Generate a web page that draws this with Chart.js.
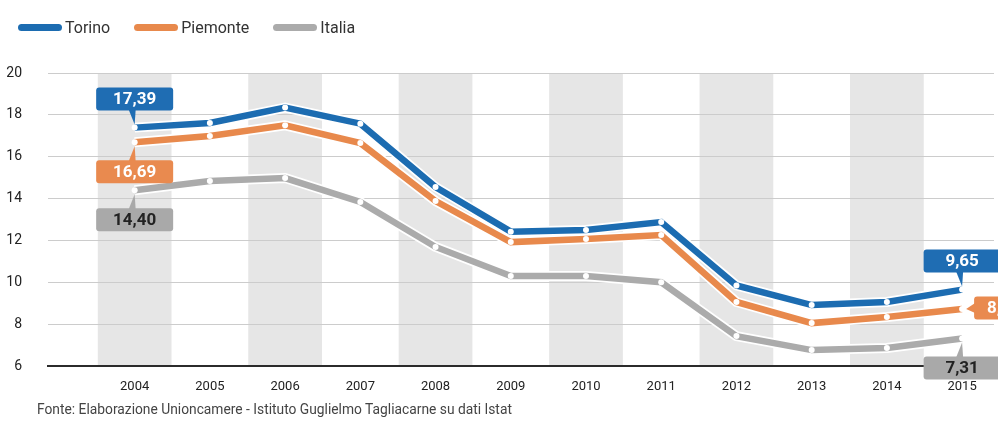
<!DOCTYPE html>
<html>
<head>
<meta charset="utf-8">
<script src="https://cdn.jsdelivr.net/npm/chart.js@4.4.1/dist/chart.umd.min.js"></script>
<style>
    body { margin: 0; background: #fff; overflow: hidden; font-family: Roboto, sans-serif; }
    #wrap { position: relative; width: 998px; height: 425px; }
    #chart { position: absolute; left: 0; top: 0; }
    #legend { position: absolute; left: 18px; top: 18px; display: flex; align-items: center; font-size: 16px; color: #333; }
    #legend span.item { display: flex; align-items: center; margin-right: 24px; }
    #legend span.sym { display: inline-block; width: 44px; height: 7px; border-radius: 4px; margin-right: 3px; }
    #footer { position: absolute; left: 37px; top: 401px; font-size: 13.8px; color: #444; white-space: nowrap; }
</style>
</head>
<body>
<div id="wrap">
    <canvas id="chart" width="998" height="425"></canvas>
    <div id="legend"></div>
    <div id="footer">Fonte: Elaborazione Unioncamere - Istituto Guglielmo Tagliacarne su dati Istat</div>
</div>
<script>
// Data
const years = [2004, 2005, 2006, 2007, 2008, 2009, 2010, 2011, 2012, 2013, 2014, 2015];
const torino = [17.39, 17.61, 18.35, 17.58, 14.55, 12.42, 12.50, 12.88, 9.85, 8.91, 9.06, 9.65];
const piemonte = [16.69, 16.99, 17.50, 16.65, 13.88, 11.92, 12.07, 12.26, 9.06, 8.05, 8.34, 8.72];
const italia = [14.40, 14.84, 14.98, 13.84, 11.69, 10.30, 10.30, 10.00, 7.43, 6.76, 6.86, 7.31];
const yTicks = [6, 8, 10, 12, 14, 16, 18, 20];
const seriesNames = ['Torino', 'Piemonte', 'Italia'];
const bandYears = [2004, 2006, 2008, 2010, 2012, 2014];

// Colors
const COLORS = {
    torino: '#1c6cb1',
    piemonte: '#e8894c',
    italia: '#ababab'
};

// Callouts: dataset index, point index, placement
const callouts = [
    { ds: 0, i: 0, place: 'above', fill: '#1f6db3', text: '#fff' },
    { ds: 1, i: 0, place: 'below', fill: '#e98a4f', text: '#fff' },
    { ds: 2, i: 0, place: 'below', fill: '#a9a9a9', text: '#222' },
    { ds: 0, i: 11, place: 'above', fill: '#1f6db3', text: '#fff' },
    { ds: 1, i: 11, place: 'right', fill: '#e98a4f', text: '#fff' },
    { ds: 2, i: 11, place: 'below', fill: '#a9a9a9', text: '#222' }
];

function fmt(v) {
    return v.toFixed(2).replace('.', ',');
}

// Alternate grey column bands
const bandsPlugin = {
    id: 'bands',
    beforeDraw(chart) {
        const { ctx, chartArea, scales } = chart;
        ctx.save();
        ctx.fillStyle = '#e6e6e6';
        bandYears.forEach(y => {
            const x0 = scales.x.getPixelForValue(y - 0.49);
            const x1 = scales.x.getPixelForValue(y + 0.49);
            ctx.fillRect(x0, chartArea.top, x1 - x0, chartArea.bottom - chartArea.top);
        });
        ctx.restore();
    }
};

// White outline under each line
const haloPlugin = {
    id: 'halo',
    beforeDatasetDraw(chart, args) {
        const pts = args.meta.data;
        const ctx = chart.ctx;
        ctx.save();
        ctx.strokeStyle = '#ffffff';
        ctx.lineWidth = 10;
        ctx.lineJoin = 'round';
        ctx.beginPath();
        pts.forEach((p, k) => k ? ctx.lineTo(p.x, p.y) : ctx.moveTo(p.x, p.y));
        ctx.stroke();
        ctx.restore();
    }
};

function roundRect(ctx, x, y, w, h, r) {
    ctx.beginPath();
    ctx.moveTo(x + r, y);
    ctx.lineTo(x + w - r, y);
    ctx.quadraticCurveTo(x + w, y, x + w, y + r);
    ctx.lineTo(x + w, y + h - r);
    ctx.quadraticCurveTo(x + w, y + h, x + w - r, y + h);
    ctx.lineTo(x + r, y + h);
    ctx.quadraticCurveTo(x, y + h, x, y + h - r);
    ctx.lineTo(x, y + r);
    ctx.quadraticCurveTo(x, y, x + r, y);
    ctx.closePath();
}

// Value callouts
const calloutPlugin = {
    id: 'callouts',
    afterDraw(chart) {
        const ctx = chart.ctx;
        const w = 77, h = 23;
        ctx.save();
        callouts.forEach(c => {
            const p = chart.getDatasetMeta(c.ds).data[c.i];
            const v = chart.data.datasets[c.ds].data[c.i].y;
            let bx, by;
            ctx.fillStyle = c.fill;
            ctx.beginPath();
            if (c.place === 'above') {
                bx = p.x - w / 2; by = p.y - 9 - h - 8;
                ctx.moveTo(p.x - 6, by + h - 1);
                ctx.lineTo(p.x + 1, by + h - 1);
                ctx.lineTo(p.x, p.y - 3);
            } else if (c.place === 'below') {
                bx = p.x - w / 2; by = p.y + 18;
                ctx.moveTo(p.x - 6, by + 1);
                ctx.lineTo(p.x + 1, by + 1);
                ctx.lineTo(p.x, p.y + 4);
            } else {
                bx = p.x + 12; by = p.y - h / 2 - 1;
                ctx.moveTo(bx + 1, p.y - 6);
                ctx.lineTo(bx + 1, p.y + 4);
                ctx.lineTo(p.x + 4, p.y);
            }
            ctx.closePath();
            ctx.fill();
            roundRect(ctx, bx, by, w, h, 3);
            ctx.fill();
            ctx.fillStyle = c.text;
            ctx.font = 'bold 17px Roboto, sans-serif';
            ctx.textBaseline = 'middle';
            if (c.place === 'right') {
                ctx.textAlign = 'left';
                ctx.fillText(fmt(v), bx + 13, by + h / 2 + 1);
            } else {
                ctx.textAlign = 'center';
                ctx.fillText(fmt(v), bx + w / 2, by + h / 2 + 1);
            }
        });
        ctx.restore();
    }
};

function toPoints(arr) {
    return arr.map((v, k) => ({ x: years[k], y: v }));
}

function lineDataset(label, values, color) {
    return {
        label: label,
        data: toPoints(values),
        borderColor: color,
        backgroundColor: color,
        borderWidth: 6.5,
        pointRadius: 3,
        pointBackgroundColor: '#ffffff',
        pointBorderWidth: 0,
        tension: 0,
        fill: false
    };
}

// Build the HTML legend
function buildLegend() {
    const colors = [COLORS.torino, COLORS.piemonte, COLORS.italia];
    document.getElementById('legend').innerHTML = seriesNames.map((n, k) =>
        `<span class="item"><span class="sym" style="background:${colors[k]}"></span>${n}</span>`
    ).join('');
}

buildLegend();

new Chart(document.getElementById('chart'), {
    type: 'line',
    data: {
        datasets: [
            lineDataset(seriesNames[0], torino, COLORS.torino),
            lineDataset(seriesNames[1], piemonte, COLORS.piemonte),
            lineDataset(seriesNames[2], italia, COLORS.italia)
        ]
    },
    options: {
        responsive: false,
        animation: false,
        layout: { padding: { top: 73, right: 0, bottom: 0, left: 0 } },
        plugins: {
            legend: { display: false },
            tooltip: { enabled: false }
        },
        scales: {
            x: {
                type: 'linear',
                min: 2002.848,
                max: 2015.424,
                afterBuildTicks: s => { s.ticks = years.map(v => ({ value: v })); },
                afterFit: s => { s.height = 59; },
                grid: { display: false, drawTicks: false },
                border: { display: true, color: '#2b2b2b', width: 2 },
                ticks: {
                    padding: 13,
                    color: '#222',
                    font: { family: 'Roboto', size: 13 },
                    callback: v => String(v)
                }
            },
            y: {
                min: 6,
                max: 20,
                afterBuildTicks: s => { s.ticks = yTicks.map(v => ({ value: v })); },
                afterFit: s => { s.width = 48; },
                grid: { color: '#cccccc', lineWidth: 1, drawTicks: false },
                border: { display: false },
                ticks: {
                    padding: 26,
                    crossAlign: 'near',
                    color: '#222',
                    font: { family: 'Roboto', size: 14 }
                }
            }
        }
    },
    plugins: [bandsPlugin, haloPlugin, calloutPlugin]
});
</script>
</body>
</html>
